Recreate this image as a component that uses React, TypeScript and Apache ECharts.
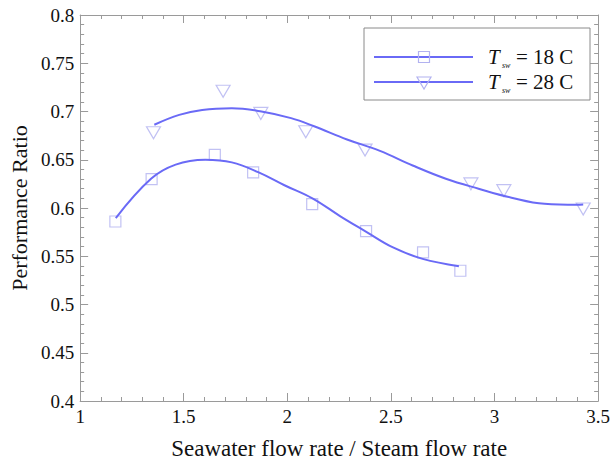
import React, { useEffect, useRef } from "react";
import * as echarts from "echarts";

// Measured points
const sw18X = [1.17, 1.345, 1.65, 1.835, 2.12, 2.38, 2.655, 2.835];
const sw18Y = [0.586, 0.63, 0.655, 0.637, 0.604, 0.576, 0.554, 0.535];
const sw28X = [1.354, 1.69, 1.872, 2.089, 2.375, 2.886, 3.045, 3.428];
const sw28Y = [0.678, 0.721, 0.698, 0.679, 0.66, 0.625, 0.618, 0.599];

// Fitted curves
const fit18X = [1.172, 1.342, 1.461, 1.604, 1.732, 1.859, 1.986, 2.121, 2.256, 2.375, 2.51, 2.653, 2.828];
const fit18Y = [0.5896, 0.6303, 0.645, 0.65, 0.6473, 0.6372, 0.6236, 0.61, 0.5914, 0.5761, 0.5591, 0.5473, 0.5397];
const fit28X = [1.358, 1.478, 1.589, 1.732, 1.875, 2.018, 2.129, 2.288, 2.447, 2.605, 2.765, 2.923, 3.082, 3.241, 3.4, 3.428];
const fit28Y = [0.6863, 0.6965, 0.7016, 0.7033, 0.7, 0.6931, 0.6847, 0.671, 0.6592, 0.644, 0.6303, 0.62, 0.6107, 0.6043, 0.6033, 0.6035];

const legendLabels = ["= 18 C", "= 28 C"];

const FONT = "Liberation Serif";
const LINE = "#6a6af6";
const MARK = "#b2b2f0";
const AXIS = "#9a9a9a";
const TEXT = "#111";

const zip = (xs: number[], ys: number[]) => xs.map((x, i) => [x, ys[i]]);

export default function App() {
  const ref = useRef<HTMLDivElement>(null);
  useEffect(() => {
    if (!ref.current) return;
    const chart = echarts.init(ref.current, undefined, { renderer: "svg" });
    const axisCommon = {
      type: "value" as const,
      axisLine: { show: true, onZero: false, lineStyle: { color: AXIS, width: 1 } },
      axisTick: { show: true, inside: true, length: 8, lineStyle: { color: AXIS } },
      minorTick: { show: true, splitNumber: 5, length: 4, lineStyle: { color: AXIS } },
      splitLine: { show: false },
    };
    const legendRow = (i: number, y: number) => {
      const els: any[] = [
        { type: "line", shape: { x1: 374, y1: y, x2: 473, y2: y }, style: { stroke: LINE, lineWidth: 2 } },
        i === 0
          ? { type: "rect", shape: { x: 418.5, y: y - 5.5, width: 11, height: 11 }, style: { fill: "none", stroke: MARK, lineWidth: 1.2 } }
          : { type: "polygon", shape: { points: [[417, y - 5], [431, y - 5], [424, y + 7]] }, style: { fill: "none", stroke: MARK, lineWidth: 1.2 } },
        { type: "text", x: 488, y: y, style: { text: "T", font: `italic 21px "${FONT}"`, fill: TEXT, verticalAlign: "middle" } },
        { type: "text", x: 502, y: y + 8, style: { text: "sw", font: `italic 8px "${FONT}"`, fill: TEXT, verticalAlign: "middle" } },
        { type: "text", x: 516, y: y, style: { text: legendLabels[i], font: `21px "${FONT}"`, fill: TEXT, verticalAlign: "middle" } },
      ];
      return els;
    };
    chart.setOption({
      animation: false,
      backgroundColor: "#fff",
      grid: { left: 76.5, right: 12, top: 15, bottom: 57 },
      xAxis: [
        {
          ...axisCommon,
          position: "bottom",
          min: 1,
          max: 3.5,
          interval: 0.5,
          axisLabel: { fontFamily: FONT, fontSize: 19, color: TEXT, margin: 6 },
          name: "Seawater flow rate / Steam flow rate",
          nameLocation: "middle",
          nameGap: 36,
          nameTextStyle: { fontFamily: FONT, fontSize: 23, color: TEXT },
        },
        { ...axisCommon, position: "top", min: 1, max: 3.5, interval: 0.5, axisLabel: { show: false } },
      ],
      yAxis: [
        {
          ...axisCommon,
          position: "left",
          min: 0.4,
          max: 0.8,
          interval: 0.05,
          axisLabel: { fontFamily: FONT, fontSize: 19, color: TEXT, margin: 6 },
          name: "Performance Ratio",
          nameLocation: "middle",
          nameGap: 39,
          nameTextStyle: { fontFamily: FONT, fontSize: 22, color: TEXT },
        },
        { ...axisCommon, position: "right", min: 0.4, max: 0.8, interval: 0.05, axisLabel: { show: false } },
      ],
      series: [
        {
          type: "scatter",
          data: zip(sw18X, sw18Y),
          symbol: "rect",
          symbolSize: 11,
          itemStyle: { color: "rgba(0,0,0,0)", borderColor: MARK, borderWidth: 1.2 },
        },
        {
          type: "scatter",
          data: zip(sw28X, sw28Y),
          symbol: "triangle",
          symbolRotate: 180,
          symbolSize: [14, 12],
          itemStyle: { color: "rgba(0,0,0,0)", borderColor: MARK, borderWidth: 1.2 },
        },
        {
          type: "line",
          data: zip(fit18X, fit18Y),
          smooth: 0.4,
          showSymbol: false,
          lineStyle: { color: LINE, width: 2 },
        },
        {
          type: "line",
          data: zip(fit28X, fit28Y),
          smooth: 0.4,
          showSymbol: false,
          lineStyle: { color: LINE, width: 2 },
        },
      ],
      graphic: [
        { type: "rect", shape: { x: 364, y: 28, width: 226, height: 72 }, style: { fill: "#fff", stroke: "#8a8a8a", lineWidth: 1 }, z: 10 },
        ...legendRow(0, 57).map((e) => ({ ...e, z: 11 })),
        ...legendRow(1, 82).map((e) => ({ ...e, z: 11 })),
      ],
    });
    return () => chart.dispose();
  }, []);
  return <div ref={ref} style={{ width: 613, height: 465, position: "absolute", left: 0, top: 0 }} />;
}
